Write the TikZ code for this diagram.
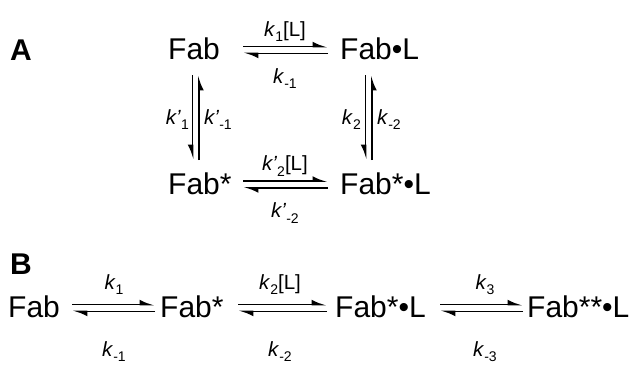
\documentclass[tikz,border=0pt]{standalone}
\usepackage{fontspec}
\setmainfont{Liberation Sans}
\usetikzlibrary{arrows.meta}
\newcommand\ksb[1]{\raisebox{-0.27em}{\fontsize{14}{14}\selectfont #1}}
\newcommand\kk{\textit{k}}
\newcommand\kp{\textit{k’}}
\begin{document}
\begin{tikzpicture}[x=1pt,y=-1pt,
  lbl/.style={font=\fontsize{20.5}{20.5}\selectfont, inner sep=0pt, anchor=base},
  sp/.style={font=\fontsize{30}{30}\selectfont, inner sep=0pt, anchor=base west},
  hd/.style={font=\fontsize{30}{30}\selectfont\bfseries, inner sep=0pt, anchor=base west},
  eq/.style={line width=1.9pt, -{Latex[harpoon,length=12pt,width=10pt]}},
  eqs/.style={line width=1.9pt, -{Latex[harpoon,swap,length=12pt,width=10pt]}}]
\useasboundingbox (0,0) rectangle (638,368);
% ---------- panel A ----------
\node[hd] (lA) at (10,60) {A};
\node[sp] (fab) at (168,59.5) {Fab};
\node[sp] (fabL) at (340,59.5) {Fab•L};
\node[sp] (fabs) at (168,194) {Fab*};
\node[sp] (fabsL) at (340,194) {Fab*•L};
% horizontal top
\coordinate (t1) at (243,46.5);   \coordinate (t2) at (328,46.5);
\coordinate (t3) at (328,53.5);   \coordinate (t4) at (243,53.5);
\draw[eq] (t1) -- (t2);
\draw[eq] (t3) -- (t4);
\node[lbl] (lt1) at (285,36) {\kk\ksb{1}[L]};
\node[lbl] (lt2) at (285,83) {\kk\ksb{-1}};
% horizontal bottom
\coordinate (b1) at (243,181); \coordinate (b2) at (328,181);
\coordinate (b3) at (328,188); \coordinate (b4) at (243,188);
\draw[eq] (b1) -- (b2);
\draw[eq] (b3) -- (b4);
\node[lbl] (lb1) at (285,170.5) {\kp\ksb{2}[L]};
\node[lbl] (lb2) at (285,217.5) {\kp\ksb{-2}};
% vertical left
\coordinate (v1) at (192.5,75);  \coordinate (v2) at (192.5,160);
\coordinate (v3) at (199,160); \coordinate (v4) at (199,75);
\draw[eqs] (v1) -- (v2);
\draw[eqs] (v3) -- (v4);
\node[lbl, anchor=base east] (lv1) at (189,124) {\kp\ksb{1}};
\node[lbl, anchor=base west] (lv2) at (204,124) {\kp\ksb{-1}};
% vertical right
\coordinate (w1) at (365.5,75);  \coordinate (w2) at (365.5,160);
\coordinate (w3) at (372,160); \coordinate (w4) at (372,75);
\draw[eqs] (w1) -- (w2);
\draw[eqs] (w3) -- (w4);
\node[lbl, anchor=base east] (lw1) at (361,124) {\kk\ksb{2}};
\node[lbl, anchor=base west] (lw2) at (377,124) {\kk\ksb{-2}};
% ---------- panel B ----------
\node[hd] (lB) at (10,274) {B};
\node[sp] (Bfab) at (8,317.5) {Fab};
\node[sp] (Bfabs) at (160,317.5) {Fab*};
\node[sp] (BfabsL) at (335,317.5) {Fab*•L};
\node[sp] (BfabssL) at (527,317.5) {Fab**•L};
% arrow 1
\coordinate (p1) at (72,304.5);  \coordinate (p2) at (155,304.5);
\coordinate (p3) at (155,311.5); \coordinate (p4) at (72,311.5);
\draw[eq] (p1) -- (p2);
\draw[eq] (p3) -- (p4);
\node[lbl] (lp1) at (114,289) {\kk\ksb{1}};
\node[lbl] (lp2) at (114,356) {\kk\ksb{-1}};
% arrow 2
\coordinate (q1) at (238,304.5);  \coordinate (q2) at (327,304.5);
\coordinate (q3) at (327,311.5); \coordinate (q4) at (238,311.5);
\draw[eq] (q1) -- (q2);
\draw[eq] (q3) -- (q4);
\node[lbl] (lq1) at (280,289) {\kk\ksb{2}[L]};
\node[lbl] (lq2) at (280,356) {\kk\ksb{-2}};
% arrow 3
\coordinate (r1) at (440,304.5);  \coordinate (r2) at (523,304.5);
\coordinate (r3) at (523,311.5); \coordinate (r4) at (440,311.5);
\draw[eq] (r1) -- (r2);
\draw[eq] (r3) -- (r4);
\node[lbl] (lr1) at (485,289) {\kk\ksb{3}};
\node[lbl] (lr2) at (485,356) {\kk\ksb{-3}};
\end{tikzpicture}
\end{document}
